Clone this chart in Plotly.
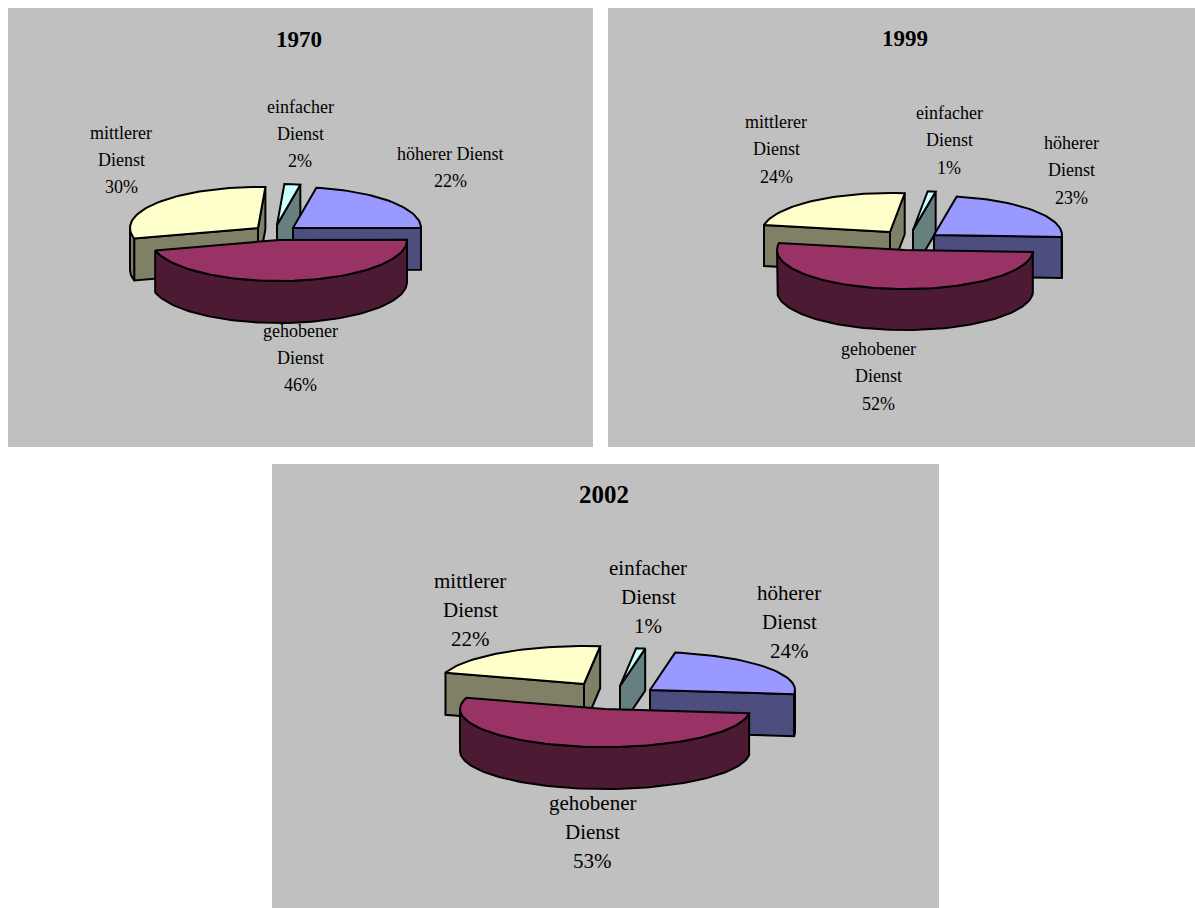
import numpy as np
import plotly.graph_objects as go

# ---------- data ----------
years = ["1970", "1999", "2002"]
categories = ["höherer Dienst", "gehobener Dienst", "mittlerer Dienst", "einfacher Dienst"]
values_1970 = [22, 46, 30, 2]
values_1999 = [23, 52, 24, 1]
values_2002 = [24, 53, 22, 1]
label_lines_1970 = [["höherer Dienst"], ["gehobener", "Dienst"], ["mittlerer", "Dienst"], ["einfacher", "Dienst"]]
label_lines_wrapped = [["höherer", "Dienst"], ["gehobener", "Dienst"], ["mittlerer", "Dienst"], ["einfacher", "Dienst"]]

# ---------- styling / layout ----------
top_colors = ["#9999FF", "#993366", "#FFFFCC", "#CCFFFF"]
side_colors = ["#4D4D80", "#4D1A33", "#808066", "#668080"]
draw_order = [2, 3, 0, 1]
W, H = 1195, 908
panels = [
    dict(values=values_1970, lines=label_lines_1970, box=(8, 8, 593, 447), title_xy=(299, 39),
         start=10.5, rx=128, ry=41, depth=42, font=18, title_font=23,
         apex=[(293, 228), (279, 240), (258, 228), (277, 225)],
         label_xy=[(450, 154), (300, 331), (121, 133), (300, 107)], step=27),
    dict(values=values_1999, lines=label_lines_wrapped, box=(608, 8, 1195, 447), title_xy=(905, 38),
         start=10.2, rx=128, ry=39, depth=41, font=18, title_font=23,
         apex=[(934, 235), (905, 250), (890, 232), (913, 230)],
         label_xy=[(1071, 143), (878, 349), (776, 122), (949, 113)], step=27.3),
    dict(values=values_2002, lines=label_lines_wrapped, box=(272, 464, 939, 908), title_xy=(604, 494),
         start=10.0, rx=145, ry=38, depth=42, font=21, title_font=25,
         apex=[(650, 690), (605, 709), (584, 684), (620, 686)],
         label_xy=[(789, 593), (592, 803), (470, 581), (648, 568)], step=29.2),
]

fig = go.Figure()
annotations = []
shapes = []


def poly(xs, ys, color):
    fig.add_trace(go.Scatter(x=list(xs), y=list(ys), mode="lines", fill="toself", fillcolor=color,
                             line=dict(color="black", width=2), hoverinfo="skip", showlegend=False))


def text(x, y, s, size, bold=False):
    annotations.append(dict(x=x, y=y, xref="x", yref="y", text=f"<b>{s}</b>" if bold else s, showarrow=False,
                            xanchor="center", yanchor="middle", align="center",
                            font=dict(family="Liberation Serif", size=size, color="black")))


for year, p in zip(years, panels):
    x0, y0, x1, y1 = p["box"]
    shapes.append(dict(type="rect", xref="x", yref="y", x0=x0, y0=y0, x1=x1, y1=y1,
                       fillcolor="#C0C0C0", line_width=0, layer="below"))
    text(*p["title_xy"], year, p["title_font"], bold=True)

    vals = np.array(p["values"], float)
    sweeps = vals / vals.sum() * 360
    starts = p["start"] + np.concatenate(([0], np.cumsum(sweeps)[:-1]))
    for i in draw_order:
        ax, ay = p["apex"][i]
        ang = np.radians(np.linspace(starts[i], starts[i] + sweeps[i], max(int(sweeps[i] / 2), 3)))
        ex = ax + p["rx"] * np.sin(ang)
        ey = ay - p["ry"] * np.cos(ang)
        d = p["depth"]
        # walls whose outward normal faces the viewer: edges running leftward on screen
        ring_x = np.concatenate(([ax], ex, [ax]))
        ring_y = np.concatenate(([ay], ey, [ay]))
        if ex[0] < ax:
            poly([ax, ex[0], ex[0], ax, ax], [ay, ey[0], ey[0] + d, ay + d, ay], side_colors[i])
        if ex[-1] > ax:
            poly([ex[-1], ax, ax, ex[-1], ex[-1]], [ey[-1], ay, ay + d, ey[-1] + d, ey[-1]], side_colors[i])
        mask = np.diff(ex) < 0
        if mask.any():
            idx = np.where(mask)[0]
            k = np.concatenate((idx, [idx[-1] + 1]))
            poly(np.concatenate((ex[k], ex[k][::-1], ex[k][:1])),
                 np.concatenate((ey[k], ey[k][::-1] + d, ey[k][:1])), side_colors[i])
        poly(ring_x, ring_y, top_colors[i])

    for i, lines in enumerate(p["lines"]):
        lx, ly = p["label_xy"][i]
        for j, s in enumerate(lines + [f"{p['values'][i]}%"]):
            text(lx, ly + j * p["step"], s, p["font"])

fig.update_layout(
    width=W, height=H, margin=dict(l=0, r=0, t=0, b=0), paper_bgcolor="white", plot_bgcolor="white",
    xaxis=dict(range=[0, W], visible=False, fixedrange=True),
    yaxis=dict(range=[H, 0], visible=False, fixedrange=True),
    shapes=shapes, annotations=annotations, showlegend=False,
)
fig.write_html("out.html", config=dict(displayModeBar=False),
               post_script="document.body.style.margin='0';document.documentElement.style.overflow='hidden';")
